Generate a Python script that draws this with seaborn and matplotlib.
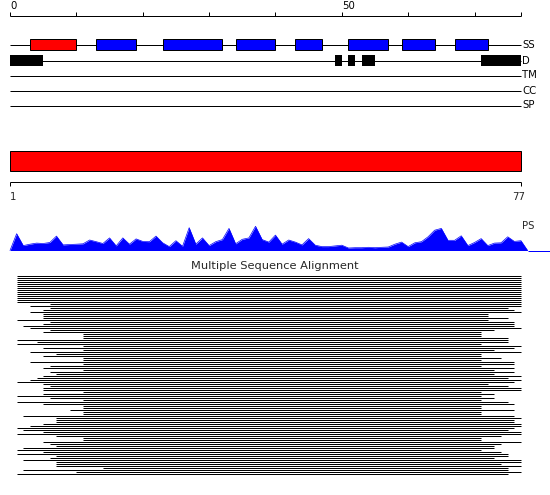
import numpy as np
import pandas as pd
import matplotlib
matplotlib.use("Agg")
import matplotlib.pyplot as plt
from matplotlib.patches import Rectangle
import seaborn as sns

# ---------------- data ----------------
seq_len = 77
ruler_ticks = [0, 10, 20, 30, 40, 50, 60, 70, 77]
ruler_labels = {0: "0", 50: "50"}

track_names = ["SS", "D", "TM", "CC", "SP"]
helix_segments = [(3, 10)]
strand_segments = [(13, 19), (23, 32), (34, 40), (43, 47), (51, 57), (59, 64), (67, 72)]
disorder_segments = [(0, 5), (49, 50), (51, 52), (53, 55), (71, 77)]
domain_segments = [(0, 77)]
domain_range_labels = ["1", "77"]

ps_label = "PS"
ps_scores = [16.8, 4.9, 6.3, 7.4, 7.0, 8.0, 14.4, 5.6, 6.0, 6.3,
             6.7, 10.5, 8.8, 7.0, 12.6, 4.6, 12.6, 6.3, 11.6, 9.1,
             8.8, 14.4, 7.7, 3.9, 9.8, 4.2, 22.8, 6.3, 12.6, 4.9,
             8.8, 10.9, 22.1, 6.7, 11.2, 12.6, 24.2, 10.9, 8.4, 15.4,
             6.3, 10.5, 8.4, 5.6, 11.9, 5.3, 3.9, 3.9, 4.6, 5.3,
             2.5, 2.8, 2.8, 3.2, 2.8, 3.2, 3.5, 6.3, 8.4, 3.9,
             7.7, 8.8, 13.7, 20.3, 22.1, 10.2, 10.2, 14.7, 4.9, 8.0,
             11.9, 4.9, 7.4, 7.7, 13.7, 9.1, 9.8]

msa_title = "Multiple Sequence Alignment"
aln_start = [1, 1, 1, 1, 1, 1, 1, 1, 1, 1,
             1, 1, 1, 1, 6, 3, 6, 5, 3, 5,
             5, 5, 1, 6, 5, 2, 3, 6, 5, 11,
             11, 11, 1, 4, 1, 11, 5, 11, 3, 7,
             5, 11, 11, 3, 11, 6, 5, 11, 6, 7,
             5, 4, 3, 1, 5, 6, 5, 5, 11, 5,
             1, 6, 11, 1, 5, 11, 11, 9, 11, 11,
             2, 7, 7, 7, 5, 3, 1, 2, 5, 1,
             7, 11, 11, 5, 6, 7, 2, 1, 5, 1,
             7, 6, 2, 7, 7, 7, 14, 2, 10, 1]
aln_end = [77, 77, 77, 77, 77, 77, 77, 77, 77, 77,
           77, 77, 77, 77, 77, 77, 75, 76, 77, 72,
           72, 75, 72, 76, 76, 76, 77, 73, 71, 71,
           71, 75, 75, 75, 71, 77, 76, 73, 77, 71,
           71, 74, 71, 76, 76, 71, 76, 73, 76, 73,
           77, 75, 77, 76, 72, 75, 77, 77, 71, 73,
           71, 73, 71, 75, 76, 71, 71, 76, 71, 71,
           76, 77, 76, 76, 77, 77, 76, 75, 77, 77,
           74, 71, 71, 77, 74, 73, 73, 71, 74, 75,
           75, 73, 77, 77, 74, 77, 75, 75, 77, 75]

# ---------------- layout ----------------
W, H, DPI = 550, 495, 100
px_per_res = 6.636
x_left_px = 10
track_y = {"SS": 44.5, "D": 60.5, "TM": 75.5, "CC": 90.5, "SP": 105.5}
box_h = 11
ruler_y = 15.5
domain_y0, domain_h = 150.5, 20
dom_ruler_y = 181.5
ps_base = 250.5
aln_y0, aln_dy = 275.5, 2
lw1 = 0.72  # one pixel

sns.set_style("white")
plt.rcParams['font.family'] = ['DejaVu Sans']
fs = 7.3

fig = plt.figure(figsize=(W / DPI, H / DPI), dpi=DPI)
ax = fig.add_axes([0, 0, 1, 1])
ax.set_xlim(-x_left_px / px_per_res, (W - x_left_px) / px_per_res)
ax.set_ylim(H, 0)
ax.axis("off")

# top ruler
ax.hlines(ruler_y, 0, seq_len, color="black", lw=lw1)
ax.vlines(ruler_ticks, ruler_y - 4, ruler_y, color="black", lw=lw1)
for t, lab in ruler_labels.items():
    ax.text(t, 6, lab, ha="left", va="center", fontsize=fs, color="black")

# tracks
for name in track_names:
    y = track_y[name]
    ax.hlines(y, 0, seq_len, color="black", lw=lw1, zorder=1)
    ax.text(seq_len + 0.15, y, name, ha="left", va="center", fontsize=fs, color="black")

for s, e in helix_segments:
    ax.add_patch(Rectangle((s, track_y["SS"] - box_h / 2), e - s, box_h,
                           facecolor="#ff0000", edgecolor="black", lw=lw1, zorder=2))
for s, e in strand_segments:
    ax.add_patch(Rectangle((s, track_y["SS"] - box_h / 2), e - s, box_h,
                           facecolor="#0000ff", edgecolor="black", lw=lw1, zorder=2))
for s, e in disorder_segments:
    ax.add_patch(Rectangle((s, track_y["D"] - box_h / 2), e - s, box_h,
                           facecolor="black", edgecolor="none", zorder=2))

# domain bar
for s, e in domain_segments:
    ax.add_patch(Rectangle((s, domain_y0), e - s, domain_h,
                           facecolor="#ff0000", edgecolor="black", lw=lw1, zorder=2))
ax.hlines(dom_ruler_y, 0, seq_len, color="black", lw=lw1)
ax.vlines([0, seq_len], dom_ruler_y, dom_ruler_y + 4, color="black", lw=lw1)
ax.text(0, 197, domain_range_labels[0], ha="left", va="center", fontsize=fs)
ax.text(seq_len - 0.4, 197, domain_range_labels[1], ha="center", va="center", fontsize=fs)

# PS profile
ps_x = np.arange(0, seq_len + 2)
ps_vals = np.concatenate([[0], ps_scores, [0]])
ps_df = pd.DataFrame({"pos": ps_x, "y": ps_base - ps_vals})
ax.fill_between(ps_df["pos"], ps_df["y"], ps_base, color="#0000ff", lw=0)
sns.lineplot(data=ps_df, x="pos", y="y", ax=ax, color="#0000ff", lw=0.5)
ax.hlines(ps_base, seq_len + 1, (W - x_left_px) / px_per_res, color="#0000ff", lw=lw1)
ax.text(seq_len + 0.1, 226, ps_label, ha="left", va="center", fontsize=fs)
ax.set_xlabel("")
ax.set_ylabel("")

# MSA
ax.text(0.5, 1 - 266 / H, msa_title, transform=ax.transAxes, ha="center",
        va="center", fontsize=8.2)
rows = np.arange(len(aln_start))
ax.hlines(aln_y0 + aln_dy * rows, aln_start, aln_end, color="black", lw=lw1)

fig.savefig("out.png", dpi=DPI)
